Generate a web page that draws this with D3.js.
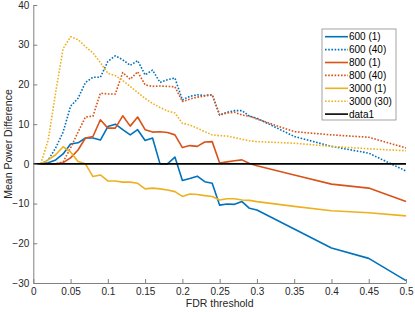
<!DOCTYPE html>
<html>
<head>
<meta charset="utf-8">
<script src="https://cdn.jsdelivr.net/npm/d3@7"></script>
<style>
  body { margin: 0; background: #fff; }
  text { font-family: "Liberation Sans", Arial, sans-serif; }
</style>
</head>
<body>
<div id="chart"></div>
<script>
// FDR thresholds
var thresholds = [0.01, 0.02, 0.03, 0.04, 0.05, 0.06, 0.07, 0.08, 0.09, 0.10,
                  0.11, 0.12, 0.13, 0.14, 0.15, 0.16, 0.17, 0.18, 0.19, 0.20,
                  0.21, 0.22, 0.23, 0.24, 0.25, 0.26, 0.27, 0.28, 0.29, 0.30,
                  0.35, 0.40, 0.45, 0.50];

var s600_1 = [0, 0.3, 1, 2.5, 5, 5.3, 6.5, 6.5, 6, 9.4,
              10, 8.6, 7.3, 8.6, 5.9, 6.5, 0, 0, 1.7, -4.2,
              -3.7, -3.1, -4.5, -4.9, -10.4, -10.1, -10.2, -9.5, -11.2, -11.6,
              -16.4, -21.2, -23.8, -29.4];
var s600_40 = [0, 1, 4, 8, 14.5, 16.5, 20.5, 21.8, 21.8, 25.8,
               27.2, 26.2, 24.8, 26, 22.4, 23.6, 20.5, 21.2, 21.6, 16.1,
               17, 17.4, 17.2, 17.4, 12.3, 13, 13.4, 13.4, 12, 11.5,
               6.9, 4.4, 2.7, -1.8];
var s800_1 = [0, 0, 0, 0.3, 1.5, 3.5, 6.5, 6.9, 11.1, 9,
              9, 12.1, 9.5, 11.8, 8.6, 8, 8.1, 7.9, 7.3, 4.1,
              4.6, 4.4, 5.5, 5.6, 0.2, 0.5, 0.8, 1, 0.1, -0.5,
              -2.8, -5.1, -6.1, -9.5];
var s800_40 = [0, 0, 0, 0.5, 4, 8, 11.8, 12, 17.8, 17.6,
               17.6, 23, 21.3, 23.2, 19.9, 19.5, 19.6, 19.5, 19.4, 15.7,
               16.3, 16.8, 17.1, 17.4, 12.3, 12.8, 13, 12.3, 12, 11.3,
               8.1, 7.3, 6.7, 4];
var s3000_1 = [0, 1, 2.3, 4.3, 3, 0.6, 0, -3.2, -2.8, -4.3,
               -4.3, -4.6, -4.6, -4.9, -6.3, -6.1, -6.3, -6.6, -7, -8.2,
               -7.6, -7.7, -8, -8.2, -9.1, -8.8, -8.8, -9.1, -9.2, -9.5,
               -10.7, -11.8, -12.3, -13.1];
var s3000_30 = [0, 6, 18, 29, 32, 31.3, 29.5, 27.9, 25.5, 22.8,
                22.2, 21, 19.5, 18, 16.5, 15.2, 14.2, 13.3, 12.8, 10.2,
                9.8, 9, 8.1, 7.3, 7.1, 7, 6.6, 6.2, 5.8, 5.6,
                5.2, 4.4, 3.8, 3.3];

// zero reference line (data1)
var zeroX = [0, 0.5];
var zeroY = [0, 0];

var xTicks = [0, 0.05, 0.1, 0.15, 0.2, 0.25, 0.3, 0.35, 0.4, 0.45, 0.5];
var yTicks = [-30, -20, -10, 0, 10, 20, 30, 40];

var seriesNames = ["600 (1)", "600 (40)", "800 (1)", "800 (40)", "3000 (1)", "3000 (30)", "data1"];
var seriesColors = ["#0072BD", "#0072BD", "#D95319", "#D95319", "#EDB120", "#EDB120", "#000000"];
var seriesDotted = [false, true, false, true, false, true, false];

var series = [
     { name: seriesNames[0], x: thresholds, y: s600_1 },
     { name: seriesNames[1], x: thresholds, y: s600_40 },
     { name: seriesNames[2], x: thresholds, y: s800_1 },
     { name: seriesNames[3], x: thresholds, y: s800_40 },
     { name: seriesNames[4], x: thresholds, y: s3000_1 },
     { name: seriesNames[5], x: thresholds, y: s3000_30 },
     { name: seriesNames[6], x: zeroX, y: zeroY }
];

var W = 415, H = 312;
var margin = { top: 5, right: 9, bottom: 29, left: 33.3 };
var width = W - margin.left - margin.right;
var height = H - margin.top - margin.bottom;

var x = d3.scaleLinear().domain([0, 0.5]).range([0, width]);
var y = d3.scaleLinear().domain([-30, 40]).range([height, 0]);

var svg = d3.select("#chart").append("svg")
     .attr("width", W)
     .attr("height", H);

var g = svg.append("g")
     .attr("transform", "translate(" + margin.left + "," + margin.top + ")");

// lines
var line = d3.line()
     .x(function (d) { return x(d[0]); })
     .y(function (d) { return y(d[1]); });

series.forEach(function (s, i) {
     var pts = s.x.map(function (v, j) { return [v, s.y[j]]; });
     g.append("path")
          .datum(pts)
          .attr("d", line)
          .attr("fill", "none")
          .attr("stroke", seriesColors[i])
          .attr("stroke-width", 1.6)
          .attr("stroke-dasharray", seriesDotted[i] ? "1.6,1.6" : null)
          .attr("stroke-linejoin", "round");
});

// axes
var xAxis = g.append("g")
     .attr("transform", "translate(0," + height + ")")
     .call(d3.axisBottom(x).tickValues(xTicks)
          .tickSizeInner(-4).tickSizeOuter(0).tickPadding(5)
          .tickFormat(function (d) { return String(+d.toFixed(2)); }));
var yAxis = g.append("g")
     .call(d3.axisLeft(y).tickValues(yTicks)
          .tickSizeInner(-4).tickSizeOuter(0).tickPadding(4));

[xAxis, yAxis].forEach(function (a) {
     a.select(".domain").attr("stroke", "#808080").attr("stroke-width", 1);
     a.selectAll(".tick line").attr("stroke", "#808080");
     a.selectAll(".tick text")
          .attr("fill", "#262626")
          .style("font-size", "10px")
          .style("font-family", "'Liberation Sans', Arial, sans-serif");
});

// axis titles
svg.append("text")
     .attr("x", margin.left + width / 2)
     .attr("y", 307)
     .attr("text-anchor", "middle")
     .attr("fill", "#262626")
     .style("font-size", "10.5px")
     .text("FDR threshold");

svg.append("text")
     .attr("transform", "translate(12," + (margin.top + height / 2) + ") rotate(-90)")
     .attr("text-anchor", "middle")
     .attr("fill", "#262626")
     .style("font-size", "10.5px")
     .text("Mean Power Difference");

// legend
var legend = svg.append("g").attr("transform", "translate(322,29)");
legend.append("rect")
     .attr("width", 74)
     .attr("height", 91)
     .attr("fill", "#fff")
     .attr("stroke", "#8c8c8c")
     .attr("stroke-width", 0.8);

seriesNames.forEach(function (n, i) {
     var ly = 7.7 + i * 12.9;
     legend.append("line")
          .attr("x1", 3).attr("x2", 26)
          .attr("y1", ly).attr("y2", ly)
          .attr("stroke", seriesColors[i])
          .attr("stroke-width", 1.6)
          .attr("stroke-dasharray", seriesDotted[i] ? "1.6,1.6" : null);
     legend.append("text")
          .attr("x", 27)
          .attr("y", ly)
          .attr("dy", "0.35em")
          .attr("fill", "#000")
          .style("font-size", "10px")
          .text(n);
});
</script>
</body>
</html>
